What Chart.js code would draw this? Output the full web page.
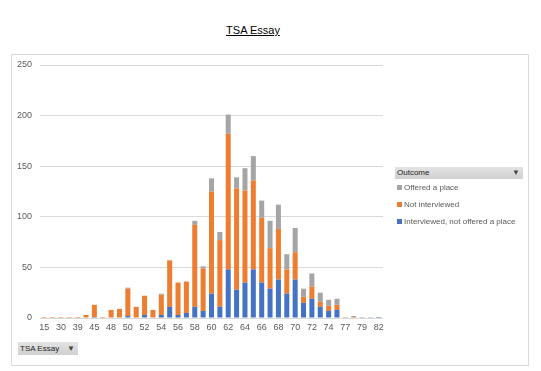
<!DOCTYPE html>
<html>
<head>
<meta charset="utf-8">
<script src="https://cdn.jsdelivr.net/npm/chart.js@4/dist/chart.umd.min.js"></script>
<style>
    body {
        margin: 0;
        background: #fff;
        font-family: "Liberation Sans", Arial, sans-serif;
    }
    #wrap {
        position: relative;
        width: 541px;
        height: 371px;
        overflow: hidden;
    }
    #title {
        position: absolute;
        left: 200px;
        width: 106px;
        top: 24px;
        text-align: center;
        font-size: 11px;
        color: #000;
        text-decoration: underline;
    }
    #frame {
        position: absolute;
        left: 11px;
        top: 54px;
        width: 518px;
        height: 312px;
        border: 1px solid #d9d9d9;
        box-sizing: border-box;
    }
    #myChart {
        position: absolute;
        left: 0;
        top: 0;
    }
    .btn {
        position: absolute;
        background: linear-gradient(#e4e4e4, #cfcfcf);
        color: #222;
        font-size: 8px;
        line-height: 12px;
        box-sizing: border-box;
        padding-left: 2px;
    }
    .btn .funnel {
        position: absolute;
        right: 3px;
        top: 0px;
        font-size: 8px;
        color: #444;
    }
    #legendHead {
        left: 395px;
        top: 167px;
        width: 128px;
        height: 12px;
    }
    #filterBtn {
        left: 18px;
        top: 342px;
        width: 60px;
        height: 13px;
        line-height: 13px;
    }
    #legend {
        position: absolute;
        left: 397px;
        top: 182px;
        list-style: none;
        margin: 0;
        padding: 0;
        font-size: 8px;
        color: #595959;
    }
    #legend li {
        height: 17px;
        line-height: 12px;
        white-space: nowrap;
    }
    #legend .indicator {
        display: inline-block;
        width: 5px;
        height: 5px;
        margin-right: 2px;
        vertical-align: 0px;
    }
</style>
</head>
<body>
<div id="wrap">
    <div id="title">TSA Essay</div>
    <div id="frame"></div>
    <canvas id="myChart" width="541" height="371"></canvas>
    <div class="btn" id="legendHead">Outcome<span class="funnel">&#9660;</span></div>
    <ul id="legend"></ul>
    <div class="btn" id="filterBtn">TSA Essay<span class="funnel">&#9660;</span></div>
</div>
<script>
const essayScores = ["15", "25", "30", "35", "39", "42", "45", "47", "48", "49",
    "50", "51", "52", "53", "54", "55", "56", "57", "58", "59",
    "60", "61", "62", "63", "64", "65", "66", "67", "68", "69",
    "70", "71", "72", "73", "74", "75", "77", "78", "79", "80", "82"];

const interviewedNotOffered = [0, 0, 0, 0, 0, 0, 1, 0, 0, 0,
    2, 0, 3, 0, 3, 11, 3, 5, 11, 7,
    24, 11, 48, 28, 35, 48, 35, 29, 38, 24,
    38, 15, 19, 11, 7, 8, 0, 0, 0, 0, 1];

const notInterviewed = [1, 1, 1, 1, 1, 3, 12, 1, 8, 9,
    27, 11, 19, 8, 20, 46, 32, 31, 81, 42,
    101, 66, 134, 100, 91, 88, 64, 40, 50, 24,
    27, 6, 12, 5, 5, 5, 0, 1, 0, 0, 0];

const offeredPlace = [0, 0, 0, 0, 0, 0, 0, 0, 0, 0,
    1, 0, 0, 0, 1, 0, 0, 0, 4, 2,
    13, 8, 19, 11, 22, 24, 17, 27, 24, 15,
    24, 8, 13, 9, 6, 6, 1, 1, 1, 1, 0];

const yTicks = [0, 50, 100, 150, 200, 250];

var barColors = ["#4472C4", "#ED7D31", "#A5A5A5"];

// legend in Excel lists the stack top-down
const legendItems = [
    { label: "Offered a place", color: barColors[2] },
    { label: "Not interviewed", color: barColors[1] },
    { label: "Interviewed, not offered a place", color: barColors[0] }
];

const tickFont = { family: "Liberation Sans", size: 9 };

new Chart(document.getElementById("myChart"), {
    type: "bar",
    data: {
        labels: essayScores,
        datasets: [{
            label: "Interviewed, not offered a place",
            data: interviewedNotOffered,
            backgroundColor: barColors[0]
        }, {
            label: "Not interviewed",
            data: notInterviewed,
            backgroundColor: barColors[1]
        }, {
            label: "Offered a place",
            data: offeredPlace,
            backgroundColor: barColors[2]
        }]
    },
    options: {
        responsive: false,
        animation: false,
        categoryPercentage: 1,
        barPercentage: 0.6,
        layout: {
            padding: { left: 0, right: 158, top: 65, bottom: 33 }
        },
        scales: {
            x: {
                stacked: true,
                grid: { display: false, drawTicks: false },
                border: { display: false },
                afterFit(scale) { scale.height = 20; },
                ticks: {
                    autoSkip: false,
                    maxRotation: 0,
                    padding: 4,
                    color: "#595959",
                    font: tickFont,
                    callback(value, index) {
                        return index % 2 === 0 ? essayScores[index] : "";
                    }
                }
            },
            y: {
                stacked: true,
                min: yTicks[0],
                max: yTicks[yTicks.length - 1],
                afterFit(scale) { scale.width = 40; },
                afterBuildTicks(scale) {
                    scale.ticks = yTicks.map(v => ({ value: v }));
                },
                grid: {
                    color: "#d9d9d9",
                    drawTicks: false
                },
                border: { display: false },
                ticks: {
                    padding: 8,
                    color: "#595959",
                    font: tickFont
                }
            }
        },
        plugins: {
            legend: { display: false },
            tooltip: { enabled: false }
        }
    }
});

const ulLegend = document.getElementById("legend");
legendItems.forEach(item => {
    let li = document.createElement("li");
    const indicator = document.createElement("span");
    indicator.className = "indicator";
    indicator.style.backgroundColor = item.color;
    li.appendChild(indicator);
    li.appendChild(document.createTextNode(item.label));
    ulLegend.appendChild(li);
});
</script>
</body>
</html>
